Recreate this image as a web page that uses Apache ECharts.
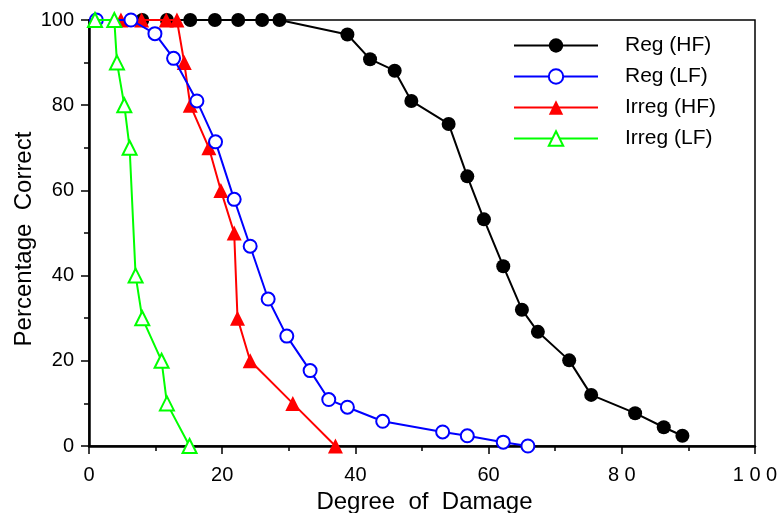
<!DOCTYPE html>
<html>
<head>
<meta charset="utf-8">
<script src="https://cdn.jsdelivr.net/npm/echarts@6/dist/echarts.min.js"></script>
<style>
html,body{margin:0;padding:0;background:#fff;}
#chart{width:778px;height:513px;}
</style>
</head>
<body>
<div id="chart"></div>
<script>
// ---- data ----
var seriesNames = ['Reg (HF)', 'Reg (LF)', 'Irreg (HF)', 'Irreg (LF)'];

var regHF_x = [8.0, 11.7, 15.2, 18.9, 22.4, 26.0, 28.6, 38.8, 42.2, 45.9, 48.4, 54.0, 56.8, 59.3, 62.2, 65.0, 67.4, 72.1, 75.4, 82.0, 86.3, 89.1];
var regHF_y = [100, 100, 100, 100, 100, 100, 100, 96.6, 90.8, 88.1, 81.0, 75.6, 63.3, 53.2, 42.2, 32.0, 26.8, 20.1, 12.0, 7.7, 4.4, 2.4];

var regLF_x = [1.1, 6.3, 9.9, 12.7, 16.2, 19.0, 21.8, 24.2, 26.9, 29.7, 33.2, 36.0, 38.8, 44.1, 53.1, 56.8, 62.2, 65.9];
var regLF_y = [100, 100, 96.8, 91.0, 81.0, 71.4, 57.9, 46.9, 34.5, 25.8, 17.7, 10.9, 9.1, 5.8, 3.3, 2.4, 0.9, 0];

var irregHF_x = [4.8, 7.9, 11.6, 13.2, 14.3, 15.2, 18.0, 19.8, 21.8, 22.3, 24.2, 30.6, 37.0];
var irregHF_y = [100, 100, 100, 100, 90, 80, 70, 60, 50, 30, 20, 10, 0];

var irregLF_x = [0.9, 3.8, 4.2, 5.3, 6.1, 7.0, 8.0, 10.9, 11.7, 15.1];
var irregLF_y = [100, 100, 90, 80, 70, 40, 30, 20, 10, 0];

var xTickValues = [0, 20, 40, 60, 80, 100];
var xTickLabels = ['0', '20', '40', '60', '8 0', '1 0 0'];
var yTickValues = [0, 20, 40, 60, 80, 100];
var yTickLabels = ['0', '20', '40', '60', '80', '100'];

function pairs(xs, ys) {
  return xs.map(function (x, i) { return [x, ys[i]]; });
}

var FONT = '"Liberation Sans", Arial, Helvetica, sans-serif';

var chart = echarts.init(document.getElementById('chart'), null, {renderer: 'canvas'});

function axisCommon() {
  return {
    type: 'value',
    min: 0,
    max: 100,
    interval: 20,
    nameMoveOverlap: false,
    splitLine: {show: false},
    axisLine: {show: true, onZero: false, lineStyle: {color: '#000', width: 2.5}},
    axisTick: {show: true, inside: false, length: 8, lineStyle: {color: '#000', width: 1.5}},
    minorTick: {show: true, splitNumber: 2, length: 5, lineStyle: {color: '#000', width: 1.5}},
    minorSplitLine: {show: false}
  };
}

var xAxis = axisCommon();
xAxis.name = 'Degree  of  Damage';
xAxis.nameLocation = 'middle';
xAxis.nameGap = 44;
xAxis.nameTextStyle = {fontFamily: FONT, fontSize: 24, color: '#000', padding: [0, 0, 0, 5]};
xAxis.axisLabel = {
  fontFamily: FONT, fontSize: 20, color: '#000', margin: 19,
  formatter: function (v) { var i = xTickValues.indexOf(v); return i >= 0 ? xTickLabels[i] : ''; }
};

var yAxis = axisCommon();
yAxis.name = 'Percentage  Correct';
yAxis.nameLocation = 'middle';
yAxis.nameGap = 53;
yAxis.nameTextStyle = {fontFamily: FONT, fontSize: 24, color: '#000', padding: [0, 12, 0, 0]};
yAxis.axisLabel = {
  fontFamily: FONT, fontSize: 20, color: '#000', margin: 15,
  formatter: function (v) { var i = yTickValues.indexOf(v); return i >= 0 ? yTickLabels[i] : ''; }
};

var option = {
  backgroundColor: '#fff',
  animation: false,
  grid: {
    left: 89, right: 23, top: 20, bottom: 67,
    outerBoundsMode: 'none',
    containLabel: false,
    show: true, borderColor: '#000', borderWidth: 1.5, backgroundColor: 'transparent'
  },
  legend: {
    data: seriesNames,
    orient: 'vertical',
    left: 513,
    top: 35,
    padding: 0,
    itemWidth: 84,
    itemHeight: 18,
    itemGap: 10,
    textStyle: {fontFamily: FONT, fontSize: 21, color: '#000', padding: [0, 0, 0, 22]}
  },
  xAxis: xAxis,
  yAxis: yAxis,
  series: [
    {
      name: 'Reg (HF)', type: 'line', data: pairs(regHF_x, regHF_y),
      symbol: 'circle', symbolSize: 14, clip: false, z: 2,
      itemStyle: {color: '#000'}, lineStyle: {color: '#000', width: 2}
    },
    {
      name: 'Irreg (HF)', type: 'line', data: pairs(irregHF_x, irregHF_y),
      symbol: 'triangle', symbolSize: 15, clip: false, z: 3,
      itemStyle: {color: '#ff0000'}, lineStyle: {color: '#ff0000', width: 2}
    },
    {
      name: 'Reg (LF)', type: 'line', data: pairs(regLF_x, regLF_y),
      symbol: 'emptyCircle', symbolSize: 13, clip: false, z: 4,
      itemStyle: {color: '#0000ff', borderWidth: 2}, lineStyle: {color: '#0000ff', width: 2}
    },
    {
      name: 'Irreg (LF)', type: 'line', data: pairs(irregLF_x, irregLF_y),
      symbol: 'emptyTriangle', symbolSize: 14, clip: false, z: 5,
      itemStyle: {color: '#00ff00', borderWidth: 2}, lineStyle: {color: '#00ff00', width: 2}
    }
  ]
};

chart.setOption(option);
</script>
</body>
</html>
